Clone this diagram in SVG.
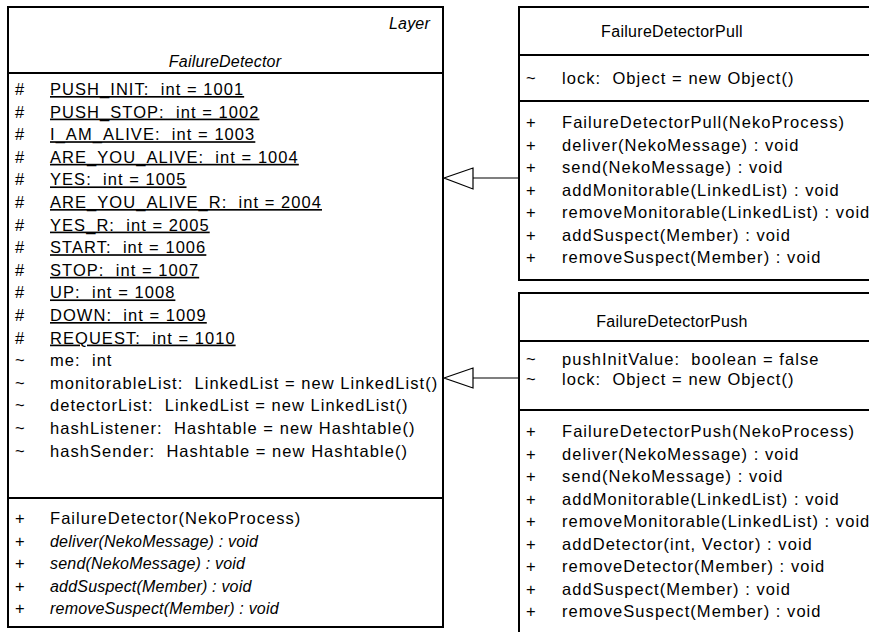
<svg xmlns="http://www.w3.org/2000/svg" width="869" height="632" viewBox="0 0 869 632" xml:space="preserve">
<style>
  .box { fill: #ffffff; stroke: #000000; stroke-width: 2; }
  .div { stroke: #000000; stroke-width: 2; fill: none; }
  text { font-family: "Liberation Sans", Arial, sans-serif; font-size: 16.5px; fill: #000000; letter-spacing: 1.05px; white-space: pre; }
  .it { font-style: italic; font-size: 16px; letter-spacing: 0.2px; }
  .hd { font-size: 16px; letter-spacing: 0.3px; }
  .ul { text-decoration: underline; text-underline-offset: 4px; text-decoration-thickness: 1.5px; }
  .vis { letter-spacing: 0; }
  .edge { stroke: #000000; stroke-width: 1.2; fill: none; }
  .head { stroke: #000000; stroke-width: 1.2; fill: #ffffff; }
</style>
<rect width="869" height="632" fill="#ffffff"/>

<g id="FailureDetector">
  <rect class="box" x="8" y="7" width="435" height="620"/>
  <line class="div" x1="8" y1="73" x2="443" y2="73"/>
  <line class="div" x1="8" y1="498" x2="443" y2="498"/>
  <text class="it" x="430" y="29" text-anchor="end">Layer</text>
  <text class="it" x="225" y="67" text-anchor="middle">FailureDetector</text>
  <g>
    <text class="vis" x="15" y="95">#</text><text class="ul" x="50" y="95">PUSH_INIT:  int = 1001</text>
    <text class="vis" x="15" y="117.6">#</text><text class="ul" x="50" y="117.6">PUSH_STOP:  int = 1002</text>
    <text class="vis" x="15" y="140.2">#</text><text class="ul" x="50" y="140.2">I_AM_ALIVE:  int = 1003</text>
    <text class="vis" x="15" y="162.8">#</text><text class="ul" x="50" y="162.8">ARE_YOU_ALIVE:  int = 1004</text>
    <text class="vis" x="15" y="185.4">#</text><text class="ul" x="50" y="185.4">YES:  int = 1005</text>
    <text class="vis" x="15" y="208">#</text><text class="ul" x="50" y="208">ARE_YOU_ALIVE_R:  int = 2004</text>
    <text class="vis" x="15" y="230.6">#</text><text class="ul" x="50" y="230.6">YES_R:  int = 2005</text>
    <text class="vis" x="15" y="253.2">#</text><text class="ul" x="50" y="253.2">START:  int = 1006</text>
    <text class="vis" x="15" y="275.8">#</text><text class="ul" x="50" y="275.8">STOP:  int = 1007</text>
    <text class="vis" x="15" y="298.4">#</text><text class="ul" x="50" y="298.4">UP:  int = 1008</text>
    <text class="vis" x="15" y="321">#</text><text class="ul" x="50" y="321">DOWN:  int = 1009</text>
    <text class="vis" x="15" y="343.6">#</text><text class="ul" x="50" y="343.6">REQUEST:  int = 1010</text>
    <text class="vis" x="15" y="366.2">~</text><text x="50" y="366.2">me:  int</text>
    <text class="vis" x="15" y="388.8">~</text><text x="50" y="388.8">monitorableList:  LinkedList = new LinkedList()</text>
    <text class="vis" x="15" y="411.4">~</text><text x="50" y="411.4">detectorList:  LinkedList = new LinkedList()</text>
    <text class="vis" x="15" y="434">~</text><text x="50" y="434">hashListener:  Hashtable = new Hashtable()</text>
    <text class="vis" x="15" y="456.6">~</text><text x="50" y="456.6">hashSender:  Hashtable = new Hashtable()</text>
  </g>
  <g>
    <text class="vis" x="15" y="524">+</text><text x="50" y="524">FailureDetector(NekoProcess)</text>
    <text class="vis" x="15" y="546.5">+</text><text class="it" x="50" y="546.5">deliver(NekoMessage) : void</text>
    <text class="vis" x="15" y="569">+</text><text class="it" x="50" y="569">send(NekoMessage) : void</text>
    <text class="vis" x="15" y="591.5">+</text><text class="it" x="50" y="591.5">addSuspect(Member) : void</text>
    <text class="vis" x="15" y="614">+</text><text class="it" x="50" y="614">removeSuspect(Member) : void</text>
  </g>
</g>

<g id="FailureDetectorPull">
  <rect class="box" x="519" y="7" width="360" height="273"/>
  <line class="div" x1="519" y1="55" x2="879" y2="55"/>
  <line class="div" x1="519" y1="101" x2="879" y2="101"/>
  <text class="hd" x="672" y="37" text-anchor="middle">FailureDetectorPull</text>
  <text class="vis" x="526" y="84">~</text><text x="562" y="84">lock:  Object = new Object()</text>
  <text class="vis" x="526" y="128">+</text><text x="562" y="128">FailureDetectorPull(NekoProcess)</text>
  <text class="vis" x="526" y="150.5">+</text><text x="562" y="150.5">deliver(NekoMessage) : void</text>
  <text class="vis" x="526" y="173">+</text><text x="562" y="173">send(NekoMessage) : void</text>
  <text class="vis" x="526" y="195.5">+</text><text x="562" y="195.5">addMonitorable(LinkedList) : void</text>
  <text class="vis" x="526" y="218">+</text><text x="562" y="218">removeMonitorable(LinkedList) : void</text>
  <text class="vis" x="526" y="240.5">+</text><text x="562" y="240.5">addSuspect(Member) : void</text>
  <text class="vis" x="526" y="263">+</text><text x="562" y="263">removeSuspect(Member) : void</text>
</g>

<g id="FailureDetectorPush">
  <rect class="box" x="519" y="293" width="360" height="350"/>
  <line class="div" x1="519" y1="341" x2="879" y2="341"/>
  <line class="div" x1="519" y1="410" x2="879" y2="410"/>
  <text class="hd" x="672" y="327" text-anchor="middle">FailureDetectorPush</text>
  <text class="vis" x="526" y="365">~</text><text x="562" y="365">pushInitValue:  boolean = false</text>
  <text class="vis" x="526" y="385">~</text><text x="562" y="385">lock:  Object = new Object()</text>
  <text class="vis" x="526" y="437">+</text><text x="562" y="437">FailureDetectorPush(NekoProcess)</text>
  <text class="vis" x="526" y="459.5">+</text><text x="562" y="459.5">deliver(NekoMessage) : void</text>
  <text class="vis" x="526" y="482">+</text><text x="562" y="482">send(NekoMessage) : void</text>
  <text class="vis" x="526" y="504.5">+</text><text x="562" y="504.5">addMonitorable(LinkedList) : void</text>
  <text class="vis" x="526" y="527">+</text><text x="562" y="527">removeMonitorable(LinkedList) : void</text>
  <text class="vis" x="526" y="549.5">+</text><text x="562" y="549.5">addDetector(int, Vector) : void</text>
  <text class="vis" x="526" y="572">+</text><text x="562" y="572">removeDetector(Member) : void</text>
  <text class="vis" x="526" y="594.5">+</text><text x="562" y="594.5">addSuspect(Member) : void</text>
  <text class="vis" x="526" y="617">+</text><text x="562" y="617">removeSuspect(Member) : void</text>
</g>

<g id="connectors">
  <line class="edge" x1="473" y1="178" x2="518" y2="178"/>
  <polygon class="head" points="444,178 473,168 473,189"/>
  <line class="edge" x1="473" y1="378" x2="518" y2="378"/>
  <polygon class="head" points="444,378 473,368 473,388"/>
</g>
</svg>
